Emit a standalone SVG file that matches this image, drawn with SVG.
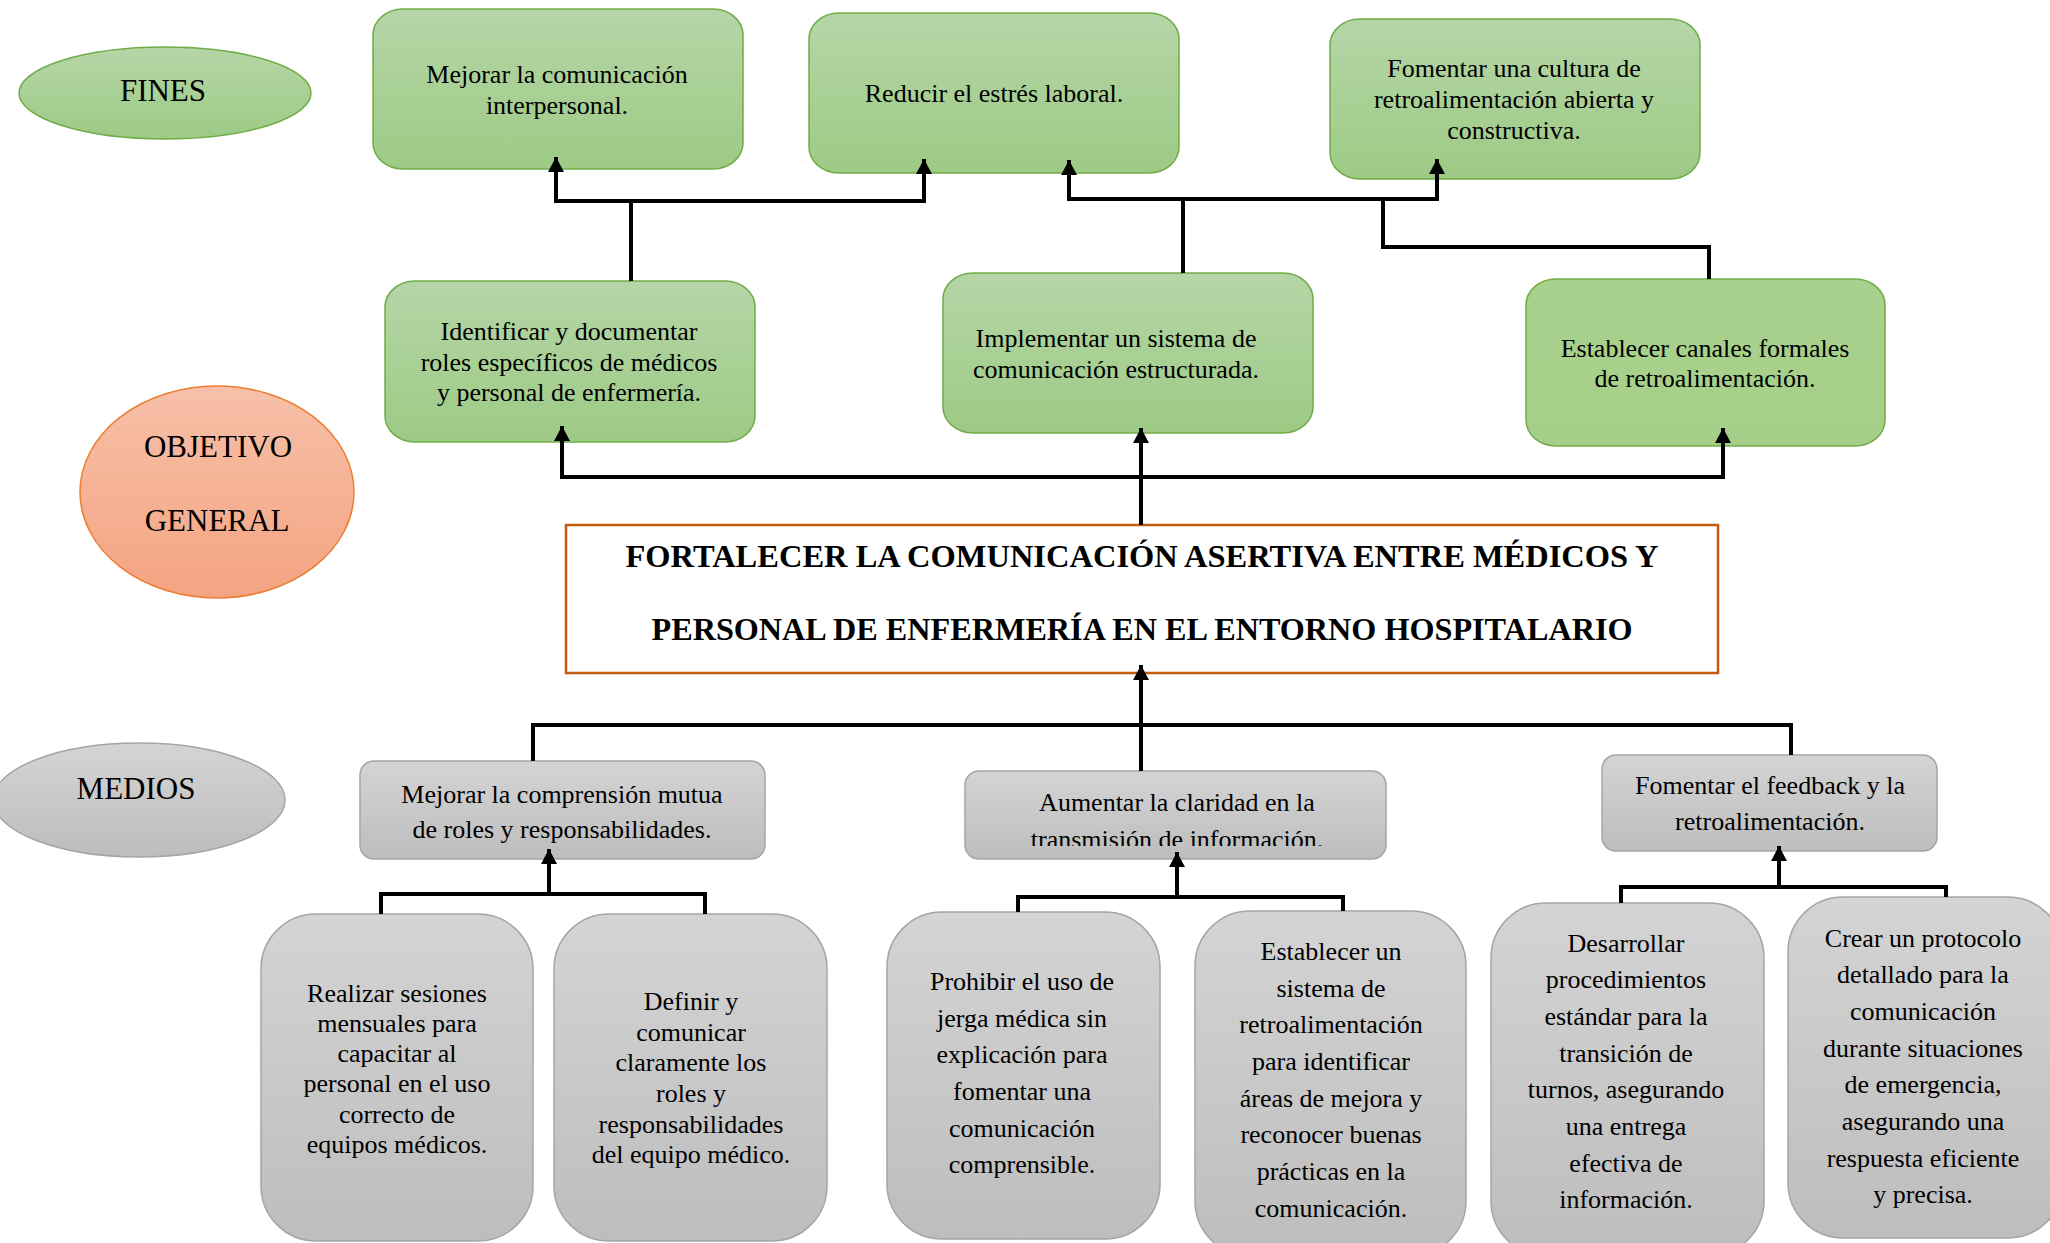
<svg xmlns="http://www.w3.org/2000/svg" width="2050" height="1243" viewBox="0 0 2050 1243">
<defs>
<linearGradient id="gGreen" x1="0" y1="0" x2="0" y2="1"><stop offset="0" stop-color="#B5D6A7"/><stop offset="1" stop-color="#9DCA85"/></linearGradient>
<linearGradient id="gGreen2" x1="0" y1="0" x2="0" y2="1"><stop offset="0" stop-color="#A9D18E"/><stop offset="1" stop-color="#A5CF89"/></linearGradient>
<linearGradient id="gGray" x1="0" y1="0" x2="0" y2="1"><stop offset="0" stop-color="#D4D4D4"/><stop offset="1" stop-color="#BDBDBD"/></linearGradient>
<linearGradient id="gOrange" x1="0" y1="0" x2="0" y2="1"><stop offset="0" stop-color="#F7C0A8"/><stop offset="1" stop-color="#F4A482"/></linearGradient>
<marker id="arr" viewBox="0 0 15 16" refX="15" refY="8" markerWidth="15" markerHeight="16" orient="auto" markerUnits="userSpaceOnUse"><path d="M0,0 L15,8 L0,16 z" fill="#000"/></marker>
<clipPath id="clipM2"><rect x="965" y="771" width="421" height="75"/></clipPath>
</defs>
<style>
.g{fill:url(#gGreen);stroke:#70AD47;stroke-width:1.5}
.g2{fill:url(#gGreen2);stroke:#70AD47;stroke-width:1.5}
.gr{fill:url(#gGray);stroke:#A5A5A5;stroke-width:1.5}
.t{font-family:"Liberation Serif","Times New Roman",serif;font-size:26px;fill:#000;text-anchor:middle}
.lab{font-family:"Liberation Serif","Times New Roman",serif;font-size:31px;fill:#000;text-anchor:middle}
.title{font-family:"Liberation Serif","Times New Roman",serif;font-size:31px;font-weight:bold;fill:#000;text-anchor:middle}
.c{fill:none;stroke:#000;stroke-width:4}
.a{fill:none;stroke:#000;stroke-width:4;marker-end:url(#arr)}
</style>
<rect width="2050" height="1243" fill="#fff"/>

<g id="fines">
<ellipse cx="165" cy="93" rx="146" ry="46" class="g"/>
<text class="lab" x="163" y="101">FINES</text>
</g>
<g id="objetivo-general">
<ellipse cx="217" cy="492" rx="137" ry="106" fill="url(#gOrange)" stroke="#ED7D31" stroke-width="1.5"/>
<text class="lab" x="218" y="457">OBJETIVO</text>
<text class="lab" x="217" y="531">GENERAL</text>
</g>
<g id="medios">
<ellipse cx="139" cy="800" rx="146" ry="57" class="gr"/>
<text class="lab" x="136" y="799">MEDIOS</text>
</g>

<g id="fin1">
<rect x="373" y="9" width="370" height="160" rx="30" ry="26" class="g"/>
<text class="t" x="557" y="83">Mejorar la comunicación</text>
<text class="t" x="557" y="114">interpersonal.</text>
</g>
<g id="fin2">
<rect x="809" y="13" width="370" height="160" rx="30" ry="26" class="g"/>
<text class="t" x="994" y="102">Reducir el estrés laboral.</text>
</g>
<g id="fin3">
<rect x="1330" y="19" width="370" height="160" rx="30" ry="26" class="g"/>
<text class="t" x="1514" y="77">Fomentar una cultura de</text>
<text class="t" x="1514" y="108">retroalimentación abierta y</text>
<text class="t" x="1514" y="139">constructiva.</text>
</g>

<g id="obj1">
<rect x="385" y="281" width="370" height="161" rx="30" ry="26" class="g"/>
<text class="t" x="569" y="340">Identificar y documentar</text>
<text class="t" x="569" y="371">roles específicos de médicos</text>
<text class="t" x="569" y="401">y personal de enfermería.</text>
</g>
<g id="obj2">
<rect x="943" y="273" width="370" height="160" rx="30" ry="26" class="g"/>
<text class="t" x="1116" y="347">Implementar un sistema de</text>
<text class="t" x="1116" y="378">comunicación estructurada.</text>
</g>
<g id="obj3">
<rect x="1526" y="279" width="359" height="167" rx="30" ry="26" class="g2"/>
<text class="t" x="1705" y="357">Establecer canales formales</text>
<text class="t" x="1705" y="387">de retroalimentación.</text>
</g>

<g id="objetivo">
<rect x="566" y="525" width="1152" height="148" fill="#fff" stroke="#C55A11" stroke-width="2.5"/>
<text class="title" x="1142" y="567" textLength="1033" lengthAdjust="spacingAndGlyphs">FORTALECER LA COMUNICACIÓN ASERTIVA ENTRE MÉDICOS Y</text>
<text class="title" x="1142" y="640" textLength="981" lengthAdjust="spacingAndGlyphs">PERSONAL DE ENFERMERÍA EN EL ENTORNO HOSPITALARIO</text>
</g>

<g id="medio1">
<rect x="360" y="761" width="405" height="98" rx="14" class="gr"/>
<text class="t" x="562" y="803">Mejorar la comprensión mutua</text>
<text class="t" x="562" y="838">de roles y responsabilidades.</text>
</g>
<g id="medio2">
<rect x="965" y="771" width="421" height="88" rx="14" class="gr"/>
<g clip-path="url(#clipM2)">
<text class="t" x="1177" y="811">Aumentar la claridad en la</text>
<text class="t" x="1177" y="848">transmisión de información.</text>
</g>
</g>
<g id="medio3">
<rect x="1602" y="755" width="335" height="96" rx="14" class="gr"/>
<text class="t" x="1770" y="794">Fomentar el feedback y la</text>
<text class="t" x="1770" y="830">retroalimentación.</text>
</g>

<g id="act1">
<rect x="261" y="914" width="272" height="327" rx="55" class="gr"/>
<text class="t" x="397" y="1002">Realizar sesiones</text>
<text class="t" x="397" y="1032">mensuales para</text>
<text class="t" x="397" y="1062">capacitar al</text>
<text class="t" x="397" y="1092">personal en el uso</text>
<text class="t" x="397" y="1123">correcto de</text>
<text class="t" x="397" y="1153">equipos médicos.</text>
</g>
<g id="act2">
<rect x="554" y="914" width="273" height="327" rx="55" class="gr"/>
<text class="t" x="691" y="1010">Definir y</text>
<text class="t" x="691" y="1041">comunicar</text>
<text class="t" x="691" y="1071">claramente los</text>
<text class="t" x="691" y="1102">roles y</text>
<text class="t" x="691" y="1133">responsabilidades</text>
<text class="t" x="691" y="1163">del equipo médico.</text>
</g>
<g id="act3">
<rect x="887" y="912" width="273" height="327" rx="55" class="gr"/>
<text class="t" x="1022" y="990">Prohibir el uso de</text>
<text class="t" x="1022" y="1027">jerga médica sin</text>
<text class="t" x="1022" y="1063">explicación para</text>
<text class="t" x="1022" y="1100">fomentar una</text>
<text class="t" x="1022" y="1137">comunicación</text>
<text class="t" x="1022" y="1173">comprensible.</text>
</g>
<g id="act4">
<rect x="1195" y="911" width="271" height="345" rx="55" class="gr"/>
<text class="t" x="1331" y="960">Establecer un</text>
<text class="t" x="1331" y="997">sistema de</text>
<text class="t" x="1331" y="1033">retroalimentación</text>
<text class="t" x="1331" y="1070">para identificar</text>
<text class="t" x="1331" y="1107">áreas de mejora y</text>
<text class="t" x="1331" y="1143">reconocer buenas</text>
<text class="t" x="1331" y="1180">prácticas en la</text>
<text class="t" x="1331" y="1217">comunicación.</text>
</g>
<g id="act5">
<rect x="1491" y="903" width="273" height="353" rx="55" class="gr"/>
<text class="t" x="1626" y="952">Desarrollar</text>
<text class="t" x="1626" y="988">procedimientos</text>
<text class="t" x="1626" y="1025">estándar para la</text>
<text class="t" x="1626" y="1062">transición de</text>
<text class="t" x="1626" y="1098">turnos, asegurando</text>
<text class="t" x="1626" y="1135">una entrega</text>
<text class="t" x="1626" y="1172">efectiva de</text>
<text class="t" x="1626" y="1208">información.</text>
</g>
<g id="act6">
<rect x="1788" y="897" width="275" height="341" rx="55" class="gr"/>
<text class="t" x="1923" y="947">Crear un protocolo</text>
<text class="t" x="1923" y="983">detallado para la</text>
<text class="t" x="1923" y="1020">comunicación</text>
<text class="t" x="1923" y="1057">durante situaciones</text>
<text class="t" x="1923" y="1093">de emergencia,</text>
<text class="t" x="1923" y="1130">asegurando una</text>
<text class="t" x="1923" y="1167">respuesta eficiente</text>
<text class="t" x="1923" y="1203">y precisa.</text>
</g>

<g id="connectors">
<path class="c" d="M631,281 V201"/>
<path class="c" d="M554,201 H926"/>
<path class="a" d="M556,203 V157"/>
<path class="a" d="M924,203 V159"/>
<path class="c" d="M1183,273 V199"/>
<path class="c" d="M1067,199 H1439"/>
<path class="a" d="M1069,201 V160"/>
<path class="a" d="M1437,201 V159"/>
<path class="c" d="M1709,279 V247 H1383 V199"/>
<path class="a" d="M1141,525 V428"/>
<path class="c" d="M560,477 H1725"/>
<path class="a" d="M562,479 V426"/>
<path class="a" d="M1723,479 V428"/>
<path class="c" d="M533,761 V725 H1791 V755"/>
<path class="a" d="M1141,771 V665"/>
<path class="c" d="M381,914 V894 H705 V914"/>
<path class="a" d="M549,894 V849"/>
<path class="c" d="M1018,912 V897 H1343 V911"/>
<path class="a" d="M1177,897 V852"/>
<path class="c" d="M1621,903 V887 H1946 V897"/>
<path class="a" d="M1779,887 V846"/>
</g>
</svg>
